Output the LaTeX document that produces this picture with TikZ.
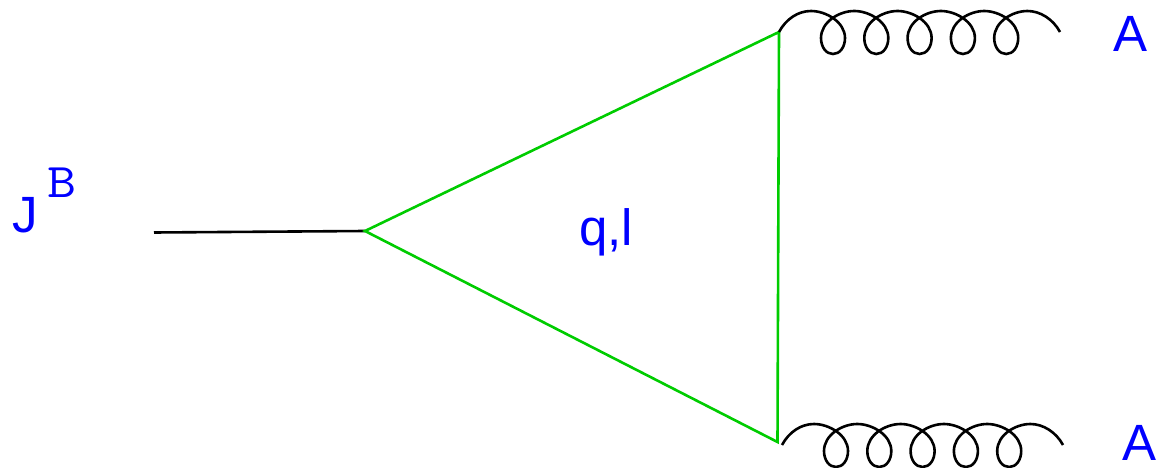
\documentclass[tikz,border=0pt]{standalone}
\usepackage{fontspec}
\setmainfont{Liberation Sans}
\definecolor{labelblue}{RGB}{0,0,255}
\definecolor{loopgreen}{RGB}{0,204,0}
\tikzset{
  lab/.style={text=labelblue,inner sep=0pt,anchor=base west,font=\fontsize{51}{53}\selectfont},
  suplab/.style={text=labelblue,inner sep=0pt,anchor=base west,font=\fontsize{44}{46}\ttfamily},
  fermion/.style={draw=loopgreen,line width=2.6pt,line join=miter},
  boson/.style={draw=black,line width=2.6pt},
  gluon/.style={draw=black,line width=2.6pt,line cap=butt}
}
\newcommand{\gluoncoil}[2]{%
  \draw[gluon,shift={(#1,#2)}] (0,0) .. controls (7,-13) and (19,-21) .. (32,-21)
  \foreach \k in {0,1,2,3,4}{
    \pgfextra{\pgfmathsetmacro{\ox}{\k*43.3}}
    .. controls (\ox+47,-21) and (\ox+66,-10) .. (\ox+66,6)
    .. controls (\ox+66,15) and (\ox+61,22) .. (\ox+54,22)
    .. controls (\ox+47,22) and (\ox+42,15) .. (\ox+42,6)
    .. controls (\ox+42,-10) and (\ox+60,-21) .. (\ox+75.3,-21)
  }
  .. controls (261,-21) and (274,-13) .. (281,0);
}
\begin{document}
\begin{tikzpicture}[x=1pt,y=-1pt]
\useasboundingbox (0,0) rectangle (1157,468);
\coordinate (ext) at (154,232.5);
\coordinate (left) at (365,231);
\coordinate (top) at (779,32);
\coordinate (bot) at (777.5,442);
\draw[boson] (ext) -- (left);
\draw[fermion] (left) -- (top) -- (bot) -- cycle;
\gluoncoil{779}{32}
\gluoncoil{782}{445}
\node[lab] (a1) at (1113.5,52) {A};
\node[lab] (a2) at (1122,460) {A};
\node[lab] (j) at (12,232.5) {J};
\node[suplab] (b) at (47.5,197.5) {\scalebox{1.28}[1.1]{B}};
\node[lab] (q) at (579,245) {q,l};
\end{tikzpicture}
\end{document}
